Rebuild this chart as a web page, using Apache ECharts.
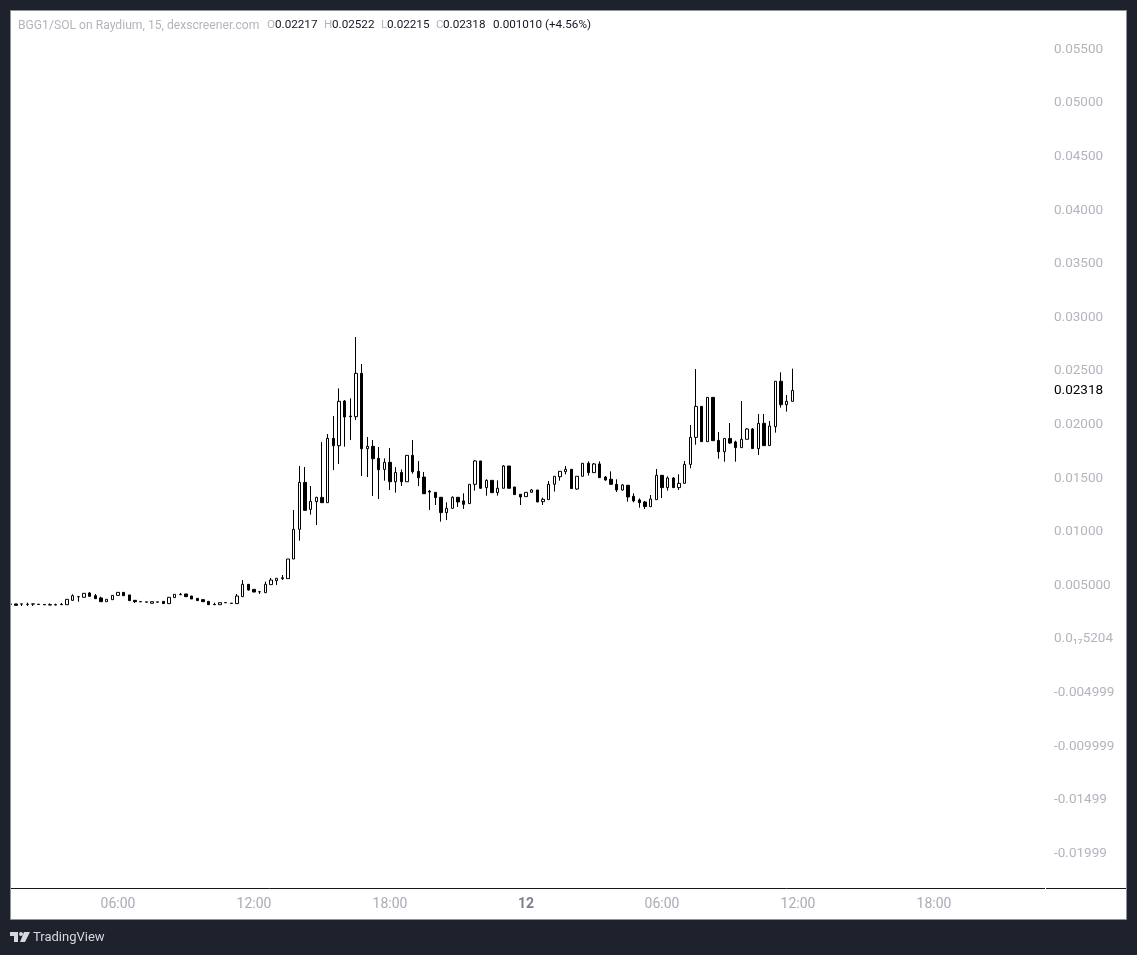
<!DOCTYPE html>
<html><head><meta charset="utf-8">
<style>html,body{margin:0;padding:0;background:#1e222d}#c{width:1137px;height:955px}</style>
<script src="https://cdn.jsdelivr.net/npm/echarts@6/dist/echarts.min.js"></script>
</head><body><div id="c"></div>
<script>
const opens = [
.00327,.00327,.00327,.00324,.00327,.00325,.00322,.00320,.00320,.00323,
.00320,.00361,.00395,.00389,.00429,.00404,.00383,.00348,.00367,.00407,
.00435,.00411,.00361,.00349,.00346,.00333,.00346,.00351,.00330,.00386,
.00416,.00420,.00401,.00379,.00367,.00351,.00323,.00320,.00340,.00334,
.00330,.00395,.00510,.00463,.00441,.00432,.00507,.00544,.00563,.00563,
.00746,.01023,.01461,.01209,.01281,.01321,.01272,.01872,.01803,.02220,
.02080,.02074,.02478,.01775,.01797,.01685,.01582,.01648,.01467,.01554,
.01467,.01713,.01564,.01511,.01378,.01368,.01322,.01179,.01219,.01322,
.01288,.01263,.01443,.01661,.01412,.01480,.01365,.01406,.01614,.01418,
.01350,.01328,.01368,.01390,.01281,.01300,.01443,.01514,.01561,.01583,
.01399,.01518,.01639,.01552,.01633,.01511,.01490,.01443,.01390,.01434,
.01331,.01297,.01278,.01234,.01300,.01527,.01412,.01502,.01412,.01452,
.01629,.01881,.02170,.01841,.02254,.01853,.01747,.01871,.01838,.01785,
.01863,.01959,.01776,.02012,.01804,.01981,.02404,.02186,.02217];
const closes = [
.00323,.00314,.00326,.00323,.00326,.00322,.00319,.00317,.00317,.00320,
.00370,.00404,.00394,.00426,.00398,.00376,.00348,.00370,.00407,.00435,
.00404,.00358,.00348,.00347,.00344,.00348,.00344,.00330,.00389,.00417,
.00413,.00395,.00373,.00358,.00348,.00320,.00320,.00339,.00338,.00332,
.00401,.00510,.00457,.00438,.00440,.00510,.00550,.00566,.00572,.00746,
.01023,.01461,.01200,.01284,.01321,.01272,.01872,.01803,.02217,.02071,
.02074,.02478,.01775,.01797,.01682,.01579,.01648,.01467,.01554,.01467,
.01713,.01561,.01505,.01355,.01371,.01319,.01179,.01219,.01322,.01278,
.01256,.01443,.01661,.01406,.01480,.01365,.01406,.01614,.01406,.01347,
.01325,.01368,.01390,.01278,.01303,.01443,.01518,.01564,.01583,.01403,
.01518,.01639,.01552,.01633,.01505,.01483,.01443,.01390,.01437,.01325,
.01288,.01272,.01235,.01306,.01527,.01412,.01502,.01412,.01452,.01629,
.01881,.02170,.01841,.02254,.01850,.01747,.01871,.01828,.01785,.01863,
.01959,.01776,.02012,.01804,.01987,.02404,.02186,.02217,.02318];
const highs = [
.00373,.00327,.00327,.00339,.00327,.00325,.00322,.00333,.00330,.00336,
.00370,.00417,.00395,.00426,.00439,.00420,.00395,.00370,.00407,.00435,
.00435,.00411,.00361,.00349,.00346,.00348,.00346,.00351,.00389,.00417,
.00429,.00420,.00401,.00379,.00373,.00351,.00339,.00339,.00340,.00334,
.00420,.00550,.00510,.00463,.00441,.00535,.00569,.00566,.00597,.00746,
.01203,.01614,.01604,.01427,.01327,.01837,.01912,.02080,.02338,.02229,
.02245,.02817,.02565,.01884,.01856,.01791,.01685,.01781,.01604,.01582,
.01713,.01856,.01660,.01558,.01390,.01368,.01322,.01275,.01331,.01322,
.01359,.01443,.01670,.01661,.01490,.01480,.01480,.01623,.01614,.01418,
.01350,.01368,.01399,.01390,.01319,.01474,.01518,.01564,.01614,.01583,
.01518,.01639,.01657,.01642,.01657,.01521,.01564,.01490,.01446,.01434,
.01359,.01312,.01288,.01343,.01586,.01527,.01517,.01511,.01536,.01660,
.01996,.02518,.02170,.02254,.02254,.01931,.01871,.02015,.01850,.02220,
.01968,.01968,.02099,.02099,.02034,.02404,.02488,.02276,.02522];
const lows = [
.00320,.00314,.00308,.00308,.00308,.00322,.00319,.00317,.00317,.00320,
.00320,.00355,.00348,.00389,.00398,.00376,.00348,.00348,.00367,.00407,
.00404,.00358,.00336,.00347,.00344,.00333,.00344,.00330,.00330,.00386,
.00413,.00395,.00373,.00358,.00348,.00320,.00320,.00320,.00338,.00332,
.00330,.00395,.00451,.00438,.00420,.00432,.00507,.00504,.00550,.00563,
.00746,.00917,.01200,.01160,.01063,.01272,.01272,.01576,.01632,.01794,
.01856,.02043,.01520,.01511,.01334,.01306,.01477,.01390,.01365,.01427,
.01467,.01542,.01427,.01355,.01204,.01250,.01095,.01110,.01219,.01232,
.01213,.01263,.01384,.01399,.01337,.01365,.01337,.01406,.01406,.01347,
.01250,.01328,.01368,.01278,.01250,.01300,.01375,.01477,.01536,.01403,
.01392,.01518,.01524,.01552,.01505,.01477,.01443,.01371,.01384,.01281,
.01275,.01225,.01213,.01234,.01300,.01315,.01384,.01412,.01390,.01452,
.01592,.01812,.01841,.01841,.01850,.01682,.01654,.01819,.01654,.01785,
.01863,.01776,.01717,.01804,.01804,.01925,.02158,.02121,.02215];

const barCount = 183;
const firstBarMinutes = 75;        // first bar opens at 01:15 on the 11th
const dayLabel = '12';
const categories = [];
for (let i = 0; i < barCount; i++) {
  const m = (firstBarMinutes + i * 15) % 1440;
  categories.push(m === 0 ? dayLabel :
    String(Math.floor(m / 60)).padStart(2, '0') + ':' + String(m % 60).padStart(2, '0'));
}
const xTickLabels = ['06:00', '12:00', '18:00', '12'];

const yTickLabels = ['', '-0.01999', '-0.01499', '-0.009999', '-0.004999', '0.0\u2081\u20875204',
  '0.005000', '0.01000', '0.01500', '0.02000', '0.02500', '0.03000', '0.03500',
  '0.04000', '0.04500', '0.05000', '0.05500'];

const legendName = 'BGG1/SOL on Raydium, 15, dexscreener.com';
const legendItems = [['O', 267, '#b2b5be'], ['0.02217', 275, '#131722'], ['H', 324, '#b2b5be'], ['0.02522', 332, '#131722'],
  ['L', 381, '#b2b5be'], ['0.02215', 387, '#131722'], ['C', 436, '#b2b5be'], ['0.02318', 443, '#131722'],
  ['0.001010 (+4.56%)', 493, '#131722']];

const FONT = 'Roboto, "Open Sans", sans-serif';
const DARK = '#1e222d';
const chart = echarts.init(document.getElementById('c'), null, {renderer: 'canvas'});

const frameZ = 100;
const graphics = [
  {type: 'rect', z: -10, shape: {x: 10.5, y: 10.5, width: 1116, height: 909}, style: {fill: '#fff', stroke: '#8f929a', lineWidth: 1}},
  {type: 'rect', z: frameZ, shape: {x: 0, y: 11, width: 10, height: 908}, style: {fill: DARK}},
  {type: 'rect', z: frameZ, shape: {x: 10, y: 11, width: 1, height: 908}, style: {fill: '#8f929a'}},
  {type: 'line', z: frameZ, shape: {x1: 11, y1: 888.5, x2: 1045, y2: 888.5}, style: {stroke: '#131722', lineWidth: 1}},
  {type: 'line', z: frameZ, shape: {x1: 1046, y1: 888.5, x2: 1126, y2: 888.5}, style: {stroke: '#131722', lineWidth: 1}},
  {type: 'text', z: frameZ, x: 18, y: 25.5, style: {text: legendName, fill: '#b2b5be', font: '12.15px ' + FONT, textVerticalAlign: 'middle'}},
  {type: 'polygon', z: frameZ, shape: {points: [[10, 932], [18, 932], [18, 942], [14, 942], [14, 936], [10, 936]]}, style: {fill: '#d6d8de'}},
  {type: 'polygon', z: frameZ, shape: {points: [[24, 932], [30, 932], [25, 942], [20, 942]]}, style: {fill: '#d6d8de'}},
  {type: 'circle', z: frameZ, shape: {cx: 21, cy: 934, r: 2}, style: {fill: '#d6d8de'}},
  {type: 'text', z: frameZ, x: 33, y: 937.5, style: {text: 'TradingView', fill: '#d6d8de', font: '13px ' + FONT, textVerticalAlign: 'middle'}}
];
legendItems.forEach(([t, x, c]) => graphics.push({type: 'text', z: frameZ, x, y: 25.5,
  style: {text: t, fill: c, font: '11.7px ' + FONT, textVerticalAlign: 'middle'}}));

const lastClose = closes[closes.length - 1];

chart.setOption({
  animation: false,
  backgroundColor: DARK,
  graphic: graphics,
  grid: {left: 7.47, top: 49.4, width: 1037.06, height: 857.6},
  xAxis: {
    type: 'category', data: categories, offset: -19,
    axisLine: {show: false}, axisTick: {show: false}, splitLine: {show: false},
    axisLabel: {
      margin: 9, hideOverlap: false, fontFamily: FONT, fontSize: 14, color: '#a9acb5',
      interval: (i, v) => xTickLabels.includes(v),
      formatter: v => v === dayLabel ? '{d|' + v + '}' : v,
      rich: {d: {fontWeight: 'bold', fontFamily: FONT, fontSize: 14, color: '#7d808a'}}
    }
  },
  yAxis: {
    type: 'value', position: 'right', min: -0.025, max: 0.055, interval: 0.005, scale: false,
    axisLine: {show: false}, axisTick: {show: false}, splitLine: {show: false},
    axisLabel: {
      margin: 9.5, align: 'left', fontFamily: FONT, fontSize: 13.5, color: '#b2b5be',
      showMinLabel: true, showMaxLabel: true,
      formatter: v => yTickLabels[Math.round((v + 0.025) / 0.005)]
    }
  },
  series: [{
    type: 'candlestick',
    barWidth: 3,
    data: opens.map((o, i) => [o, closes[i], lows[i], highs[i]]),
    itemStyle: {color: '#ffffff', color0: '#000000', borderColor: '#000000', borderColor0: '#000000', borderWidth: 1},
    markLine: {
      silent: true, symbol: 'none', animation: false, precision: 5,
      lineStyle: {color: 'rgba(255,255,255,0)', width: 1, opacity: 1, type: 'solid'},
      label: {show: true, position: 'end', distance: 9.5, formatter: () => lastClose.toFixed(5),
        color: '#000', opacity: 1, fontFamily: FONT, fontSize: 13.5},
      data: [{yAxis: lastClose}]
    }
  }]
});
</script></body></html>
